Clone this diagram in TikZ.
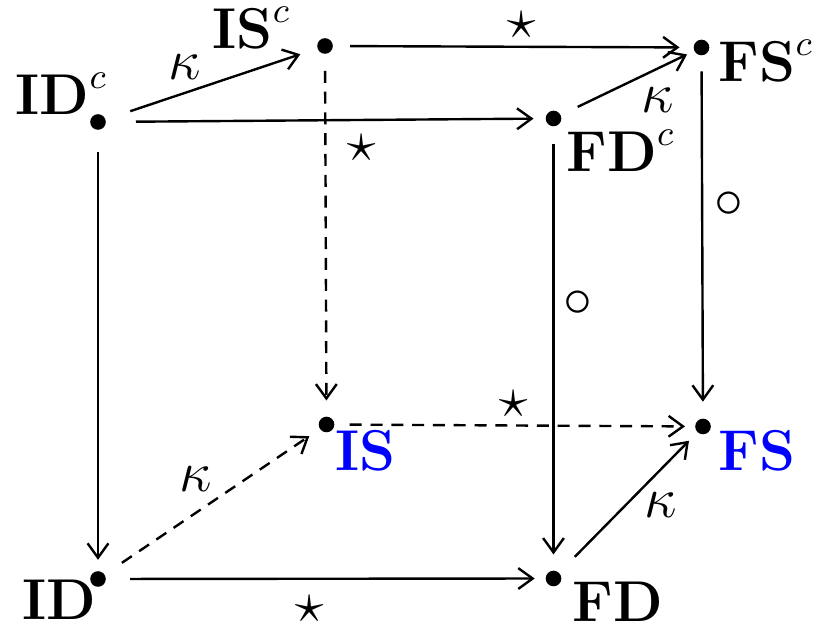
\documentclass[tikz,border=0pt]{standalone}
\usetikzlibrary{arrows.meta}
\begin{document}
\begin{tikzpicture}[x=0.25pt,y=-0.25pt,
  dot/.style={circle,fill=black,inner sep=0pt,minimum size=3.9pt},
  lab/.style={anchor=base west,inner sep=0pt,font=\fontsize{13.5}{16}\selectfont},
  elab/.style={inner sep=0pt,font=\fontsize{13.5}{16}\selectfont},
  arr/.style={line width=0.6pt,-{Straight Barb[length=3.6pt,width=5.2pt]}},
  dsh/.style={arr,dash pattern=on 3pt off 2.2pt}]
\useasboundingbox (0,0) rectangle (813,628);
% dots
\node[dot] (IDc) at (98,122) {};
\node[dot] (ISc) at (325,46) {};
\node[dot] (FSc) at (701.5,47.5) {};
\node[dot] (FDc) at (553.5,118.5) {};
\node[dot] (IS) at (326.5,424.5) {};
\node[dot] (FS) at (703,426.5) {};
\node[dot] (ID) at (98,579) {};
\node[dot] (FD) at (553.5,578.5) {};
% object labels
\node[lab] (tIDc) at (15,115) {$\mathbf{ID}^c$};
\node[lab] (tISc) at (212,49) {$\mathbf{IS}^c$};
\node[lab] (tFSc) at (718,82) {$\mathbf{FS}^c$};
\node[lab] (tFDc) at (566,172) {$\mathbf{FD}^c$};
\node[lab,text=blue] (tIS) at (335,471) {$\mathbf{IS}$};
\node[lab,text=blue] (tFS) at (718,471) {$\mathbf{FS}$};
\node[lab] (tID) at (22,620) {$\mathbf{ID}$};
\node[lab] (tFD) at (572,622) {$\mathbf{FD}$};
% arrows
\draw[arr,shorten <=8.5pt,shorten >=6.5pt] (IDc.center) -- (ISc.center);
\draw[arr,shorten <=9.5pt,shorten >=5pt] (IDc.center) -- (FDc.center);
\draw[arr,shorten <=6.3pt,shorten >=5.5pt] (ISc.center) -- (FSc.center);
\draw[arr,shorten <=6.7pt,shorten >=4pt] (FDc.center) -- (FSc.center);
\draw[dsh,shorten <=6.2pt,shorten >=6pt] (ISc.center) -- (IS.center);
\draw[arr,shorten <=7.5pt,shorten >=4.8pt] (IDc.center) -- (ID.center);
\draw[arr,shorten <=6.3pt,shorten >=6pt] (FDc.center) -- (FD.center);
\draw[arr,shorten <=6pt,shorten >=6.2pt] (FSc.center) -- (FS.center);
\draw[dsh,shorten <=5.8pt,shorten >=4.5pt] (IS.center) -- (FS.center);
\draw[dsh,shorten <=7.2pt,shorten >=5.2pt] (ID.center) -- (IS.center);
\draw[arr,shorten <=8pt,shorten >=4.7pt] (ID.center) -- (FD.center);
\draw[arr,shorten <=7.6pt,shorten >=5pt] (FD.center) -- (FS.center);
% edge labels
\node[elab] (k1) at (185,67) {$\kappa$};
\node[elab] (s1) at (362,148) {$\star$};
\node[elab] (s2) at (522,25) {$\star$};
\node[elab] (k2) at (658,100) {$\kappa$};
\node[elab] (c1) at (578,304) {$\circ$};
\node[elab] (c2) at (729,205) {$\circ$};
\node[elab] (s3) at (514,404) {$\star$};
\node[elab] (k3) at (196,479) {$\kappa$};
\node[elab] (s4) at (310,609) {$\star$};
\node[elab] (k4) at (661,505) {$\kappa$};
\end{tikzpicture}
\end{document}
